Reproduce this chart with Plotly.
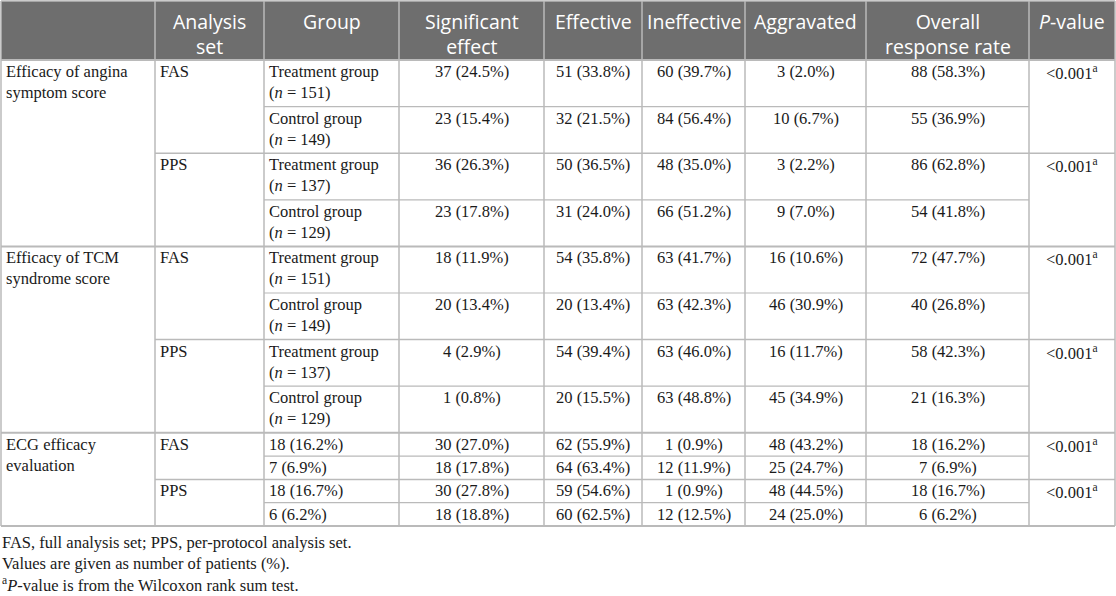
import plotly.graph_objects as go

# ---------------- table content ----------------
header = ["", "Analysis<br>set", "Group", "Significant<br>effect", "Effective",
          "Ineffective", "Aggravated", "Overall<br>response rate", "<i>P</i>-value"]

outcomes = ["Efficacy of angina<br>symptom score",
            "Efficacy of TCM<br>syndrome score",
            "ECG efficacy<br>evaluation"]
analysis_sets = ["FAS", "PPS"]
groups = ["Treatment group", "Control group"]
group_n = [151, 149, 137, 129]  # FAS treatment, FAS control, PPS treatment, PPS control

# angina (FAS T, FAS C, PPS T, PPS C) then TCM (same order)
significant_n = [37, 23, 36, 23, 18, 20, 4, 1]
significant_pct = [24.5, 15.4, 26.3, 17.8, 11.9, 13.4, 2.9, 0.8]
effective_n = [51, 32, 50, 31, 54, 20, 54, 20]
effective_pct = [33.8, 21.5, 36.5, 24.0, 35.8, 13.4, 39.4, 15.5]
ineffective_n = [60, 84, 48, 66, 63, 63, 63, 63]
ineffective_pct = [39.7, 56.4, 35.0, 51.2, 41.7, 42.3, 46.0, 48.8]
aggravated_n = [3, 10, 3, 9, 16, 46, 16, 45]
aggravated_pct = [2.0, 6.7, 2.2, 7.0, 10.6, 30.9, 11.7, 34.9]
overall_n = [88, 55, 86, 54, 72, 40, 58, 21]
overall_pct = [58.3, 36.9, 62.8, 41.8, 47.7, 26.8, 42.3, 16.3]

# ECG rows: in the source the values start in the Group column
ecg_n = [[18, 30, 62, 1, 48, 18],
         [7, 18, 64, 12, 25, 7],
         [18, 30, 59, 1, 48, 18],
         [6, 18, 60, 12, 24, 6]]
ecg_pct = [[16.2, 27.0, 55.9, 0.9, 43.2, 16.2],
           [6.9, 17.8, 63.4, 11.9, 24.7, 6.9],
           [16.7, 27.8, 54.6, 0.9, 44.5, 16.7],
           [6.2, 18.8, 62.5, 12.5, 25.0, 6.2]]

p_values = ["&lt;0.001<sup>a</sup>"] * 6

footnotes = ["FAS, full analysis set; PPS, per-protocol analysis set.",
             "Values are given as number of patients (%).",
             "<sup>a</sup><i>P</i>-value is from the Wilcoxon rank sum test."]

# ---------------- layout constants ----------------
W, H = 1116, 596
col_edges = [1, 155, 264, 399, 544, 642, 745, 866, 1029, 1115]
header_top, header_bottom = 1, 60
tall_row, short_row = 46.6, 23.3
line_color = "#bababa"
header_fill = "#6e6e6e"
body_font = dict(family="Liberation Serif, Times New Roman, serif", size=16.5, color="#1a1a1a")
head_font = dict(family="Open Sans, sans-serif", size=19.5, color="white")


def fmt(n, p):
    return f"{n} ({p:.1f}%)"


# row tops: 8 tall rows (angina + TCM) then 4 short rows (ECG)
row_tops = []
y = header_bottom
for i in range(12):
    row_tops.append(y)
    y += tall_row if i < 8 else short_row
table_bottom = y

fig = go.Figure()
shapes = []
annotations = []

# header band
shapes.append(dict(type="rect", x0=col_edges[0], x1=col_edges[-1], y0=header_top, y1=header_bottom,
                   fillcolor=header_fill, line=dict(width=0), layer="below"))

# vertical lines
for x in col_edges:
    shapes.append(dict(type="line", x0=x, x1=x, y0=header_top, y1=table_bottom,
                       line=dict(color=line_color, width=1.5)))

# horizontal lines
shapes.append(dict(type="line", x0=col_edges[0], x1=col_edges[-1], y0=header_top, y1=header_top,
                   line=dict(color=line_color, width=1.5)))
for i, top in enumerate(row_tops):
    if i % 4 == 0:
        x0, x1, w = col_edges[0], col_edges[-1], 2
    elif i % 2 == 0:
        x0, x1, w = col_edges[1], col_edges[-1], 1.5
    else:
        x0, x1, w = col_edges[2], col_edges[8], 1.2
    shapes.append(dict(type="line", x0=x0, x1=x1, y0=top, y1=top, line=dict(color=line_color, width=w)))
shapes.append(dict(type="line", x0=col_edges[0], x1=col_edges[-1], y0=table_bottom, y1=table_bottom,
                   line=dict(color=line_color, width=2)))

# header text
for j, label in enumerate(header):
    if label:
        annotations.append(dict(x=(col_edges[j] + col_edges[j + 1]) / 2, y=header_top + 5, text=label,
                                xanchor="center", yanchor="top", showarrow=False, font=head_font))


def cell(text, col, top, align="center"):
    if align == "left":
        x, xa = col_edges[col] + 3, "left"
    else:
        x, xa = (col_edges[col] + col_edges[col + 1]) / 2, "center"
    annotations.append(dict(x=x, y=top, text=text, xanchor=xa, yanchor="top", align=align,
                            showarrow=False, font=body_font))


# outcome + analysis set labels
for s, outcome in enumerate(outcomes):
    cell(outcome, 0, row_tops[4 * s], "left")
    for a, aset in enumerate(analysis_sets):
        cell(aset, 1, row_tops[4 * s + 2 * a], "left")

# angina + TCM rows
for r in range(8):
    top = row_tops[r]
    cell(f"{groups[r % 2]}<br>(<i>n</i> = {group_n[r % 4]})", 2, top, "left")
    cell(fmt(significant_n[r], significant_pct[r]), 3, top)
    cell(fmt(effective_n[r], effective_pct[r]), 4, top)
    cell(fmt(ineffective_n[r], ineffective_pct[r]), 5, top)
    cell(fmt(aggravated_n[r], aggravated_pct[r]), 6, top)
    cell(fmt(overall_n[r], overall_pct[r]), 7, top)

# ECG rows
for k in range(4):
    top = row_tops[8 + k]
    for c in range(6):
        cell(fmt(ecg_n[k][c], ecg_pct[k][c]), 2 + c, top, "left" if c == 0 else "center")

# p-values at the first row of each analysis set
for i, p in enumerate(p_values):
    cell(p, 8, row_tops[2 * i])

# footnotes
annotations.append(dict(x=col_edges[0] - 1, y=table_bottom + 5, text="<br>".join(footnotes),
                        xanchor="left", yanchor="top", align="left", showarrow=False, font=body_font))

fig.update_layout(
    width=W, height=H,
    margin=dict(l=0, r=0, t=0, b=0),
    paper_bgcolor="white", plot_bgcolor="white",
    xaxis=dict(range=[0, W], visible=False, fixedrange=True),
    yaxis=dict(range=[H, 0], visible=False, fixedrange=True),
    shapes=shapes,
    annotations=annotations,
    showlegend=False,
)

# drop the browser's default body margin so the figure sits at the page corner
fig.write_html("out.html", config={"displayModeBar": False},
               post_script="document.body.style.margin='0';")
